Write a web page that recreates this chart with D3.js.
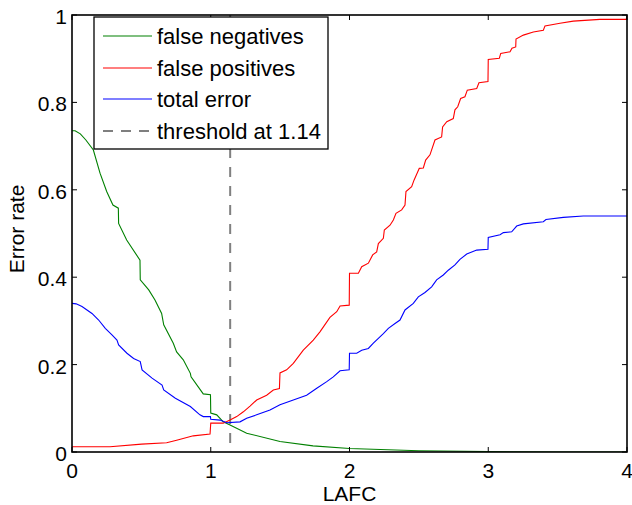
<!DOCTYPE html>
<html>
<head>
<meta charset="utf-8">
<script src="https://cdn.jsdelivr.net/npm/d3@7"></script>
<style>
  body { margin: 0; background: #fff; }
  svg { font-family: "Liberation Sans", Arial, sans-serif; }
</style>
</head>
<body>
<div id="chart"></div>
<script>
// false negatives (green)
var fnX = [0, 0.022, 0.06, 0.10, 0.154, 0.202, 0.250, 0.295, 0.334, 0.336, 0.394, 0.490, 0.492, 0.553, 0.598, 0.646, 0.661, 0.730, 0.754, 0.802, 0.853, 0.858, 0.946, 0.998, 1.0, 1.043, 1.090, 1.139, 1.259, 1.499, 1.737, 2.0, 2.5, 3.0, 3.5, 4.0];
var fnY = [0.735, 0.735, 0.728, 0.714, 0.691, 0.638, 0.596, 0.565, 0.558, 0.523, 0.485, 0.439, 0.394, 0.371, 0.348, 0.317, 0.291, 0.249, 0.229, 0.211, 0.180, 0.172, 0.133, 0.131, 0.089, 0.085, 0.069, 0.062, 0.043, 0.024, 0.014, 0.008, 0.003, 0.001, 0, 0];

// false positives (red)
var fpX = [0, 0.274, 0.502, 0.682, 0.754, 0.874, 0.995, 1.0, 1.090, 1.139, 1.187, 1.235, 1.283, 1.331, 1.403, 1.451, 1.495, 1.499, 1.547, 1.595, 1.667, 1.739, 1.787, 1.859, 1.908, 1.932, 1.998, 2.0, 2.064, 2.088, 2.136, 2.167, 2.196, 2.208, 2.244, 2.251, 2.292, 2.316, 2.335, 2.376, 2.400, 2.407, 2.448, 2.465, 2.503, 2.532, 2.549, 2.580, 2.616, 2.664, 2.671, 2.701, 2.748, 2.760, 2.780, 2.801, 2.832, 2.849, 2.917, 2.933, 2.998, 3.0, 3.08, 3.09, 3.157, 3.171, 3.198, 3.2, 3.253, 3.325, 3.397, 3.409, 3.517, 3.613, 3.805, 3.995, 4.0];
var fpY = [0.012, 0.012, 0.018, 0.021, 0.027, 0.037, 0.041, 0.066, 0.066, 0.073, 0.081, 0.092, 0.105, 0.119, 0.130, 0.142, 0.145, 0.181, 0.188, 0.203, 0.233, 0.256, 0.275, 0.308, 0.321, 0.334, 0.336, 0.409, 0.409, 0.424, 0.432, 0.451, 0.458, 0.477, 0.489, 0.508, 0.519, 0.531, 0.546, 0.554, 0.565, 0.596, 0.607, 0.622, 0.649, 0.650, 0.668, 0.680, 0.714, 0.721, 0.744, 0.756, 0.763, 0.783, 0.790, 0.809, 0.813, 0.828, 0.832, 0.845, 0.848, 0.898, 0.901, 0.912, 0.916, 0.924, 0.927, 0.945, 0.954, 0.961, 0.965, 0.975, 0.981, 0.986, 0.990, 0.990, 1.0];

// total error (blue)
var teX = [0, 0.03, 0.072, 0.144, 0.192, 0.240, 0.288, 0.324, 0.336, 0.396, 0.444, 0.492, 0.505, 0.577, 0.649, 0.661, 0.745, 0.853, 0.922, 0.946, 0.998, 1.0, 1.067, 1.115, 1.211, 1.259, 1.331, 1.427, 1.499, 1.595, 1.691, 1.764, 1.836, 1.883, 1.932, 1.998, 2.0, 2.052, 2.088, 2.136, 2.172, 2.208, 2.244, 2.280, 2.328, 2.364, 2.400, 2.460, 2.496, 2.544, 2.592, 2.628, 2.676, 2.712, 2.760, 2.796, 2.845, 2.917, 2.998, 3.0, 3.085, 3.109, 3.169, 3.205, 3.253, 3.397, 3.416, 3.541, 3.685, 4.0];
var teY = [0.340, 0.339, 0.333, 0.317, 0.302, 0.283, 0.268, 0.256, 0.245, 0.226, 0.214, 0.207, 0.188, 0.169, 0.153, 0.142, 0.123, 0.104, 0.085, 0.081, 0.081, 0.075, 0.073, 0.067, 0.069, 0.077, 0.085, 0.096, 0.108, 0.119, 0.130, 0.146, 0.161, 0.172, 0.186, 0.188, 0.226, 0.226, 0.233, 0.237, 0.249, 0.260, 0.271, 0.283, 0.294, 0.302, 0.325, 0.340, 0.355, 0.365, 0.378, 0.394, 0.405, 0.416, 0.428, 0.441, 0.453, 0.462, 0.464, 0.491, 0.497, 0.502, 0.504, 0.517, 0.522, 0.527, 0.532, 0.537, 0.540, 0.540];

var threshold = 1.14;
var xTicks = [0, 1, 2, 3, 4];
var yTicks = [0, 0.2, 0.4, 0.6, 0.8, 1];
var legendLabels = ["false negatives", "false positives", "total error", "threshold at 1.14"];

var width = 632, height = 505;
var plotLeft = 72, plotRight = 627, plotTop = 15, plotBottom = 452;

var x = d3.scaleLinear().domain([0, 4]).range([plotLeft, plotRight]);
var y = d3.scaleLinear().domain([0, 1]).range([plotBottom, plotTop]);

var svg = d3.select("#chart").append("svg")
    .attr("width", width)
    .attr("height", height);

svg.append("defs").append("clipPath").attr("id", "plot")
    .append("rect")
    .attr("x", plotLeft).attr("y", plotTop)
    .attr("width", plotRight - plotLeft).attr("height", plotBottom - plotTop);

var line = d3.line()
    .x(function(d) { return x(d[0]); })
    .y(function(d) { return y(d[1]); });

function pairs(xs, ys) {
    return xs.map(function(v, i) { return [v, ys[i]]; });
}

var series = [
    { data: pairs(fnX, fnY), color: "#008000" },
    { data: pairs(fpX, fpY), color: "#ff0000" },
    { data: pairs(teX, teY), color: "#0000ff" }
];

var plot = svg.append("g").attr("clip-path", "url(#plot)");

// threshold line
plot.append("line")
    .attr("x1", x(threshold)).attr("x2", x(threshold))
    .attr("y1", y(1)).attr("y2", y(0))
    .attr("stroke", "#808080")
    .attr("stroke-width", 2)
    .attr("stroke-dasharray", "10,9");

plot.selectAll("path.series")
    .data(series)
    .enter().append("path")
    .attr("class", "series")
    .attr("fill", "none")
    .attr("stroke", function(d) { return d.color; })
    .attr("stroke-width", 1.1)
    .attr("d", function(d) { return line(d.data); });

// axes box
svg.append("rect")
    .attr("x", plotLeft).attr("y", plotTop)
    .attr("width", plotRight - plotLeft).attr("height", plotBottom - plotTop)
    .attr("fill", "none")
    .attr("stroke", "#000")
    .attr("stroke-width", 1.6);

// ticks, inward on all four sides
var tl = 5;
var ticks = svg.append("g").attr("stroke", "#000").attr("stroke-width", 1);
xTicks.forEach(function(t) {
    ticks.append("line").attr("x1", x(t)).attr("x2", x(t)).attr("y1", plotBottom).attr("y2", plotBottom - tl);
    ticks.append("line").attr("x1", x(t)).attr("x2", x(t)).attr("y1", plotTop).attr("y2", plotTop + tl);
});
yTicks.forEach(function(t) {
    ticks.append("line").attr("x1", plotLeft).attr("x2", plotLeft + tl).attr("y1", y(t)).attr("y2", y(t));
    ticks.append("line").attr("x1", plotRight).attr("x2", plotRight - tl).attr("y1", y(t)).attr("y2", y(t));
});

svg.append("g").selectAll("text")
    .data(xTicks)
    .enter().append("text")
    .attr("x", function(d) { return x(d); })
    .attr("y", 478)
    .attr("text-anchor", "middle")
    .attr("font-size", 21)
    .text(function(d) { return d; });

svg.append("g").selectAll("text")
    .data(yTicks)
    .enter().append("text")
    .attr("x", 67)
    .attr("y", function(d) { return y(d) + 9; })
    .attr("text-anchor", "end")
    .attr("font-size", 21)
    .text(function(d) { return d; });

svg.append("text")
    .attr("x", (plotLeft + plotRight) / 2)
    .attr("y", 501)
    .attr("text-anchor", "middle")
    .attr("font-size", 21)
    .text("LAFC");

svg.append("text")
    .attr("transform", "translate(24,229) rotate(-90)")
    .attr("text-anchor", "middle")
    .attr("font-size", 21)
    .text("Error rate");

// legend
var legend = svg.append("g");
legend.append("rect")
    .attr("x", 94).attr("y", 17)
    .attr("width", 234).attr("height", 132)
    .attr("fill", "#fff")
    .attr("stroke", "#000")
    .attr("stroke-width", 1.3);

var legendColors = ["#008000", "#ff0000", "#0000ff", "#000"];
var rowY = [36, 68, 99, 131];
legendLabels.forEach(function(label, i) {
    legend.append("line")
        .attr("x1", 103).attr("x2", 152)
        .attr("y1", rowY[i]).attr("y2", rowY[i])
        .attr("stroke", legendColors[i])
        .attr("stroke-width", i === 3 ? 1.2 : 1.1)
        .attr("stroke-dasharray", i === 3 ? "10,8" : null);
    legend.append("text")
        .attr("x", 157)
        .attr("y", rowY[i] + 8)
        .attr("font-size", 22)
        .text(label);
});
</script>
</body>
</html>
